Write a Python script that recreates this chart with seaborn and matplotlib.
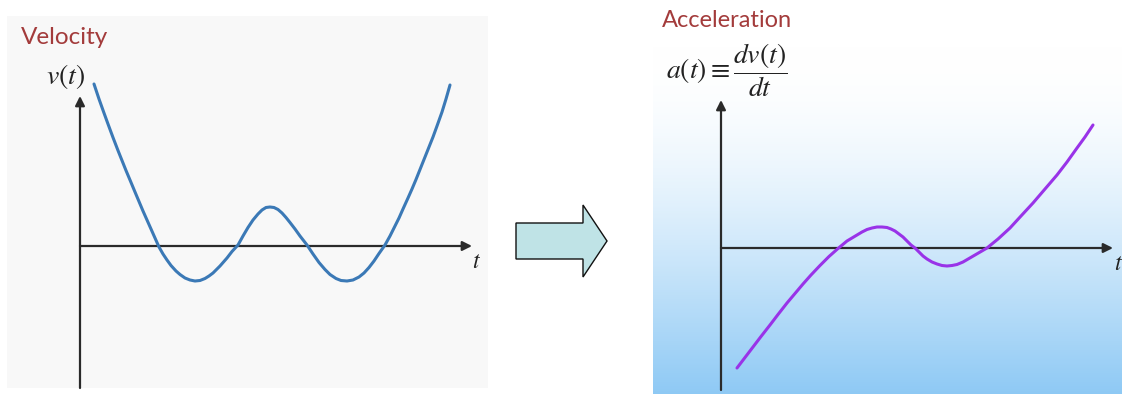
import numpy as np
import matplotlib
matplotlib.use("Agg")
import matplotlib.pyplot as plt
import seaborn as sns
from matplotlib.patches import FancyArrow

# Velocity curve (t, v in pixel units from the origin)
t_vel = [14, 19, 24, 28, 33, 38, 42, 46, 50, 55, 59, 63, 67, 71, 75, 79, 83, 87,
         91, 96, 100, 105, 110, 115, 120, 125, 129, 133, 140, 147, 152, 158, 163,
         168, 173, 178, 182, 186, 190, 194, 198, 202, 206, 210, 215, 220, 227,
         233, 239, 245, 250, 256, 261, 267, 273, 279, 284, 289, 294, 299, 305,
         310, 314, 319, 323, 328, 332, 336, 340, 344, 348, 353, 357, 362, 366, 370]
v_vel = [162, 147, 133, 122, 108.5, 95.5, 85.5, 75.5, 66, 54, 44.5, 35, 26, 17, 8, -1,
         -8, -14, -19.5, -25, -28.5, -32, -34, -35, -34.5, -32.5, -30, -27, -20, -12,
         -5.5, 1, 10, 18.5, 26, 32, 36, 38.5, 39, 38.5, 36.5, 33, 28.5, 23.5, 17, 10,
         1, -8, -16.5, -23.5, -28.5, -32.5, -34.5, -35, -34, -31, -27, -21.5, -15, -7.5,
         1, 10, 18, 28, 37, 48, 57, 66.5, 76.5, 86.5, 96.5, 109, 120, 134, 147, 161]

# Acceleration curve
t_acc = [16, 24, 32, 40, 49, 57, 66, 74, 82, 90, 99, 108, 117, 126, 136, 141, 146,
         151, 156, 161, 166, 170, 174, 178, 182, 186, 190, 194, 198, 202, 206, 211,
         216, 221, 226, 231, 236, 242, 248, 254, 260, 266, 277, 289, 300, 312, 324,
         336, 346, 356, 364, 372]
a_acc = [-120, -109.5, -99, -88.5, -77, -66.5, -55, -45.5, -36, -27, -17.5, -8.5, -0.5,
         7, 13, 16, 18.5, 20, 21, 21, 20.5, 19, 17, 14, 11, 7, 3, 0, -4, -8, -11, -14,
         -16, -17.5, -18, -17.5, -16.5, -14, -10.5, -7, -3.5, 0, 9, 20, 32, 45, 59,
         73, 86, 100, 111, 123]

W, H = 1122, 394
fig = plt.figure(figsize=(W / 100, H / 100), dpi=100)
sns.set_style("white")
plt.rcParams["mathtext.fontset"] = "stix"


def px_axes(x0, y0, x1, y1):
    return fig.add_axes([x0 / W, 1 - y1 / H, (x1 - x0) / W, (y1 - y0) / H])


def draw_axes_lines(ax, tip_x, top_y, bottom_y):
    arrow = dict(arrowstyle="-|>", lw=1.6, color="#2a2a2a", mutation_scale=14,
                 shrinkA=0, shrinkB=0)
    ax.annotate("", xy=(tip_x, 0), xytext=(0, 0), arrowprops=arrow)
    ax.annotate("", xy=(0, top_y), xytext=(0, bottom_y), arrowprops=arrow)


# ---- left panel: velocity ----
ax1 = px_axes(7, 16, 488, 388)
ax1.set_facecolor("#f8f8f8")
ax1.set_xlim(-73, 408)
ax1.set_ylim(-142, 230)
for s in ax1.spines.values():
    s.set_visible(False)
ax1.set_xticks([])
ax1.set_yticks([])
draw_axes_lines(ax1, 392, 150, -142)
sns.lineplot(x=t_vel, y=v_vel, ax=ax1, color="#3b79b6", lw=2.2,
             estimator=None, sort=False, zorder=3)
ax1.text(-59, 208, "Velocity", color="#a33b3b", fontsize=17.5, family="Lato",
         va="center", ha="left")
ax1.text(-14, 169, r"$v(t)$", fontsize=20, color="#222222", ha="center", va="center")
ax1.text(396, -15, r"$t$", fontsize=17, color="#222222", ha="center", va="center")

# ---- right panel: acceleration ----
ax2 = px_axes(653, 0, 1122, 394)
ax2.set_xlim(-68, 401)
ax2.set_ylim(-146, 248)
for s in ax2.spines.values():
    s.set_visible(False)
ax2.set_xticks([])
ax2.set_yticks([])
top = np.array([1.0, 1.0, 1.0])
bot = np.array([0.56, 0.79, 0.96])
f = np.linspace(0, 1, 400)
f = np.clip((f - 0.12) / 0.88, 0, 1)
f = f * f * (1.6 - 0.6 * f)
grad = top[None, :] * (1 - f[:, None]) + bot[None, :] * f[:, None]
ax2.imshow(grad[:, None, :], extent=(-68, 401, -146, 248), aspect="auto",
           origin="upper", zorder=0)
draw_axes_lines(ax2, 392, 148, -142)
sns.lineplot(x=t_acc, y=a_acc, ax=ax2, color="#9933e8", lw=2.2,
             estimator=None, sort=False, zorder=3)
ax2.text(-59, 228, "Acceleration", color="#a33b3b", fontsize=17, family="Lato",
         va="center", ha="left")
ax2.text(-55, 178, r"$a(t)\equiv\dfrac{dv(t)}{dt}$", fontsize=20, color="#222222",
         ha="left", va="center")
ax2.text(397, -15, r"$t$", fontsize=17, color="#222222", ha="center", va="center")

# ---- middle block arrow ----
axm = fig.add_axes([0, 0, 1, 1], zorder=-1)
axm.set_xlim(0, W)
axm.set_ylim(H, 0)
axm.axis("off")
axm.add_patch(FancyArrow(516, 241, 91, 0, width=36, head_width=72, head_length=24,
                         length_includes_head=True, facecolor="#bfe3e6",
                         edgecolor="#111111", lw=1.0))

fig.savefig("out.png", dpi=100)
